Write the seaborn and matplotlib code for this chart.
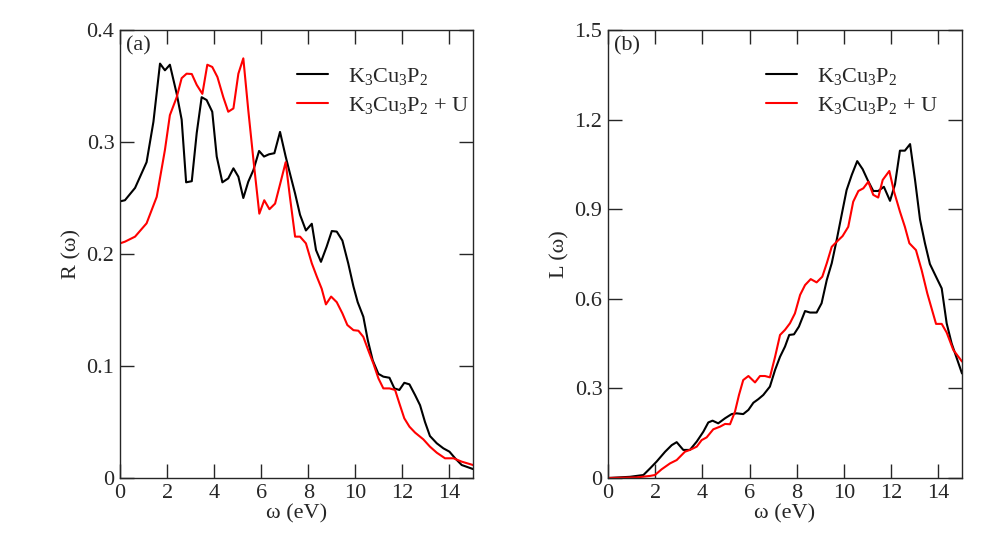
import numpy as np
import pandas as pd
import matplotlib
matplotlib.use("Agg")
import matplotlib.pyplot as plt
import seaborn as sns

# ---- data: panel (a) reflectivity ----
Ea_k = [0, 0.21, 0.64, 1.13, 1.42, 1.70, 1.91, 2.12, 2.41, 2.62, 2.81, 3.05, 3.26, 3.47, 3.68, 3.92,
        4.11, 4.35, 4.60, 4.82, 5.03, 5.24, 5.45, 5.67, 5.91, 6.12, 6.33, 6.56, 6.80, 7.04, 7.22,
        7.44, 7.65, 7.90, 8.15, 8.33, 8.54, 8.78, 9.0, 9.21, 9.45, 9.70, 9.92, 10.1, 10.34, 10.53,
        10.74, 10.98, 11.19, 11.45, 11.66, 11.87, 12.08, 12.30, 12.54, 12.75, 12.96, 13.17, 13.46,
        13.74, 14.0, 14.24, 14.52, 15.0]
Ra_k = [0.247, 0.248, 0.259, 0.282, 0.318, 0.370, 0.364, 0.369, 0.343, 0.320, 0.264, 0.265, 0.308,
        0.340, 0.3375, 0.327, 0.287, 0.264, 0.2675, 0.2765, 0.269, 0.250, 0.2645, 0.275, 0.292, 0.287,
        0.289, 0.290, 0.309, 0.287, 0.272, 0.254, 0.235, 0.221, 0.227, 0.2035, 0.193, 0.2065, 0.2205,
        0.220, 0.212, 0.1915, 0.171, 0.157, 0.144, 0.123, 0.105, 0.093, 0.0905, 0.0895, 0.080, 0.0786,
        0.085, 0.0836, 0.074, 0.065, 0.050, 0.0375, 0.031, 0.0265, 0.0235, 0.0176, 0.0116, 0.008]

Ea_u = [0, 0.21, 0.64, 1.13, 1.56, 1.91, 2.12, 2.41, 2.62, 2.83, 3.05, 3.26, 3.50, 3.71, 3.92, 4.14,
        4.39, 4.60, 4.82, 5.03, 5.24, 5.45, 5.67, 5.92, 6.13, 6.35, 6.59, 6.83, 7.04, 7.22, 7.44,
        7.65, 7.90, 8.15, 8.36, 8.57, 8.75, 8.97, 9.21, 9.45, 9.66, 9.92, 10.13, 10.34, 10.55, 10.77,
        10.98, 11.19, 11.45, 11.69, 11.87, 12.08, 12.30, 12.54, 12.89, 13.17, 13.46, 13.81, 14.17,
        14.52, 15.0]
Ra_u = [0.2095, 0.211, 0.2155, 0.2274, 0.251, 0.293, 0.324, 0.340, 0.357, 0.361, 0.3607, 0.351,
        0.343, 0.369, 0.367, 0.358, 0.340, 0.327, 0.330, 0.361, 0.3747, 0.3286, 0.284, 0.236, 0.248,
        0.240, 0.245, 0.2646, 0.282, 0.251, 0.2155, 0.2155, 0.2095, 0.1917, 0.180, 0.169, 0.155,
        0.162, 0.157, 0.147, 0.1366, 0.132, 0.1315, 0.126, 0.114, 0.102, 0.089, 0.080, 0.080, 0.0786,
        0.0667, 0.0533, 0.0458, 0.0405, 0.0345, 0.028, 0.0226, 0.0176, 0.0176, 0.0146, 0.0116]

# ---- data: panel (b) energy loss ----
Eb_k = [0.0, 0.93, 1.50, 1.78, 2.06, 2.42, 2.70, 2.91, 3.19, 3.47, 3.76, 4.04, 4.25, 4.43, 4.67,
        4.96, 5.24, 5.45, 5.73, 5.95, 6.16, 6.37, 6.58, 6.86, 7.08, 7.29, 7.50, 7.68, 7.88, 8.09,
        8.35, 8.56, 8.84, 9.05, 9.27, 9.48, 9.69, 9.90, 10.11, 10.33, 10.56, 10.79, 11.0, 11.24,
        11.45, 11.69, 11.95, 12.16, 12.37, 12.58, 12.80, 13.01, 13.22, 13.43, 13.64, 13.93, 14.14,
        14.35, 14.56, 15.0]
Lb_k = [0.0, 0.004, 0.010, 0.032, 0.055, 0.088, 0.110, 0.120, 0.094, 0.094, 0.122, 0.155, 0.186,
        0.192, 0.183, 0.200, 0.214, 0.2165, 0.214, 0.228, 0.252, 0.264, 0.278, 0.306, 0.362, 0.406,
        0.440, 0.479, 0.481, 0.507, 0.559, 0.554, 0.554, 0.585, 0.663, 0.719, 0.797, 0.881, 0.964,
        1.015, 1.061, 1.034, 0.998, 0.961, 0.961, 0.975, 0.928, 0.983, 1.096, 1.096, 1.118, 0.998,
        0.866, 0.786, 0.7165, 0.669, 0.635, 0.518, 0.451, 0.350]

Eb_u = [0.0, 1.22, 1.78, 1.99, 2.27, 2.63, 2.91, 3.26, 3.47, 3.76, 3.97, 4.18, 4.46, 4.75, 4.96,
        5.17, 5.38, 5.55, 5.73, 5.95, 6.23, 6.44, 6.65, 6.86, 7.08, 7.29, 7.50, 7.71, 7.92, 8.14,
        8.35, 8.59, 8.84, 9.08, 9.27, 9.48, 9.69, 9.94, 10.18, 10.39, 10.61, 10.82, 11.03, 11.24,
        11.45, 11.64, 11.92, 12.12, 12.37, 12.58, 12.77, 13.05, 13.29, 13.53, 13.90, 14.14, 14.35,
        14.63, 15.0]
Lb_u = [0.0, 0.002, 0.007, 0.010, 0.029, 0.049, 0.060, 0.088, 0.094, 0.105, 0.127, 0.136, 0.163,
        0.172, 0.181, 0.180, 0.222, 0.278, 0.328, 0.3415, 0.320, 0.3415, 0.3415, 0.337, 0.406, 0.479,
        0.496, 0.518, 0.551, 0.613, 0.646, 0.666, 0.655, 0.674, 0.719, 0.774, 0.791, 0.810, 0.841,
        0.925, 0.961, 0.970, 0.992, 0.948, 0.939, 0.998, 1.028, 0.959, 0.892, 0.841, 0.786, 0.763,
        0.696, 0.618, 0.516, 0.516, 0.487, 0.429, 0.390]

series_names = [r"K$_3$Cu$_3$P$_2$", r"K$_3$Cu$_3$P$_2$ + U"]
colors = ["black", "red"]

x_ticks = [0, 2, 4, 6, 8, 10, 12, 14]
ya_ticks = [0, 0.1, 0.2, 0.3, 0.4]
ya_labels = ["0", "0.1", "0.2", "0.3", "0.4"]
yb_ticks = [0, 0.3, 0.6, 0.9, 1.2, 1.5]
yb_labels = ["0", "0.3", "0.6", "0.9", "1.2", "1.5"]

sns.set_style("ticks")
plt.rcParams["font.family"] = ["Liberation Serif", "DejaVu Serif"]
plt.rcParams["mathtext.fontset"] = "custom"
plt.rcParams["mathtext.rm"] = "Liberation Serif"
plt.rcParams["mathtext.it"] = "Liberation Serif:italic"
plt.rcParams["mathtext.bf"] = "Liberation Serif:bold"

def make_df(e1, v1, e2, v2):
    return pd.concat([
        pd.DataFrame({"E": e1, "V": v1, "series": series_names[0]}),
        pd.DataFrame({"E": e2, "V": v2, "series": series_names[1]}),
    ], ignore_index=True)

dfa = make_df(Ea_k, Ra_k, Ea_u, Ra_u)
dfb = make_df(Eb_k, Lb_k, Eb_u, Lb_u)

fig = plt.figure(figsize=(9.93, 5.47), dpi=100)
axa = fig.add_axes([120 / 993, 69 / 547, 353 / 993, 448 / 547])
axb = fig.add_axes([608 / 993, 69 / 547, 354 / 993, 448 / 547])

fs = 16
for ax, df, yt, yl, ylab, ymax, tag, legx in [
    (axa, dfa, ya_ticks, ya_labels, "R (ω)", 0.4, "(a)", 0.475),
    (axb, dfb, yb_ticks, yb_labels, "L (ω)", 1.5, "(b)", 0.42),
]:
    sns.lineplot(data=df, x="E", y="V", hue="series", palette=colors, ax=ax,
                 linewidth=1.5, sort=False, estimator=None)
    ax.set_xlim(0, 15)
    ax.set_ylim(0, ymax)
    ax.set_xticks(x_ticks)
    ax.set_xticklabels([str(t) for t in x_ticks], fontsize=fs)
    ax.set_yticks(yt)
    ax.set_yticklabels(yl, fontsize=fs)
    ax.tick_params(direction="in", length=10, width=1, top=True, right=True, pad=4)
    ax.set_xlabel("ω (eV)", fontsize=fs, labelpad=1)
    ax.set_ylabel(ylab, fontsize=fs, labelpad=4)
    for s in ax.spines.values():
        s.set_linewidth(1)
    ax.text(0.018, 0.985, tag, transform=ax.transAxes, ha="left", va="top", fontsize=fs)
    leg = ax.legend(loc="upper left", bbox_to_anchor=(legx, 0.94), frameon=False, fontsize=fs,
                    handlelength=1.4, handletextpad=0.9, labelspacing=0.35, borderaxespad=0)
    for line in leg.get_lines():
        line.set_linewidth(1.5)

fig.savefig("out.png", dpi=100)
